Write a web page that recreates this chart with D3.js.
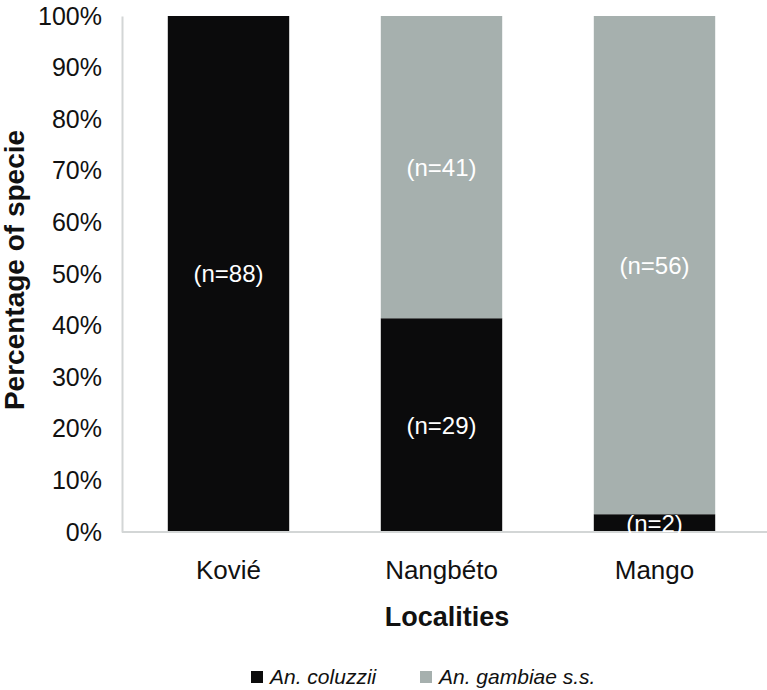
<!DOCTYPE html>
<html><head><meta charset="utf-8">
<script src="https://cdn.jsdelivr.net/npm/d3@7"></script>
<style>body{margin:0;background:#fff;}svg{display:block;font-family:"Liberation Sans",Arial,sans-serif;}</style>
</head><body><svg id="c" width="767" height="690"></svg>
<script>
const categories = ["Kovié", "Nangbéto", "Mango"];
const coluzzii = [88, 29, 2];
const gambiae = [0, 41, 56];
const seriesNames = ["An. coluzzii", "An. gambiae s.s."];
const seriesColors = ["#0b0b0c", "#a6b0ae"];
const yTicks = [0, 0.1, 0.2, 0.3, 0.4, 0.5, 0.6, 0.7, 0.8, 0.9, 1.0];

const svg = d3.select("#c");
const x0 = 122, x1 = 761, yTop = 16, yBot = 532;
const x = d3.scaleBand().domain(categories).range([x0, x1]).paddingInner(0.43).paddingOuter(0.215);
const y = d3.scaleLinear().domain([0, 1]).range([yBot, yTop]);

const data = categories.map((c, i) => {
  const t = coluzzii[i] + gambiae[i];
  return {c, vals: [coluzzii[i], gambiae[i]], t};
});
const stack = [];
data.forEach(d => {
  let acc = 0;
  d.vals.forEach((v, k) => {
    const p0 = acc / d.t, p1 = (acc + v) / d.t;
    acc += v;
    if (v > 0) stack.push({c: d.c, k, v, p0, p1});
  });
});

// axes
const ya = svg.append("g").attr("transform", `translate(${x0},0)`)
  .call(d3.axisLeft(y).tickValues(yTicks).tickFormat(d3.format(".0%")).tickSize(0).tickPadding(20));
ya.select(".domain").attr("stroke", "#d3d6d6").attr("stroke-width", 2);
ya.selectAll("text").attr("font-size", 25).attr("fill", "#111").attr("font-family", "Liberation Sans, Arial, sans-serif");

svg.selectAll("rect.bar").data(stack).enter().append("rect")
  .attr("x", d => x(d.c)).attr("width", x.bandwidth())
  .attr("y", d => y(d.p1)).attr("height", d => y(d.p0) - y(d.p1))
  .attr("fill", d => seriesColors[d.k]);

const xa = svg.append("g").attr("transform", `translate(0,${yBot})`)
  .call(d3.axisBottom(x).tickSize(0).tickPadding(0));
xa.select(".domain").attr("stroke", "#d3d6d6").attr("stroke-width", 2).attr("d", `M${x0},0H${767}`);
xa.selectAll("text").attr("font-size", 26).attr("fill", "#111").attr("dy", null).attr("y", 47)
  .attr("font-family", "Liberation Sans, Arial, sans-serif");

svg.selectAll("text.lab").data(stack).enter().append("text")
  .attr("x", d => x(d.c) + x.bandwidth() / 2)
  .attr("y", d => (y(d.p0) + y(d.p1)) / 2)
  .attr("dy", "0.35em").attr("text-anchor", "middle")
  .attr("font-size", 24).attr("fill", "#fff")
  .text(d => `(n=${d.v})`);

svg.append("text").attr("x", 447).attr("y", 626).attr("text-anchor", "middle")
  .attr("font-size", 27).attr("font-weight", "bold").attr("fill", "#111").text("Localities");
svg.append("text").attr("transform", `translate(24,270) rotate(-90)`)
  .attr("text-anchor", "middle").attr("font-size", 28).attr("font-weight", "bold").attr("fill", "#111")
  .text("Percentage of specie");

const legX = [251, 420];
const leg = svg.selectAll("g.leg").data(seriesNames).enter().append("g")
  .attr("transform", (d, i) => `translate(${legX[i]},677)`);
leg.append("rect").attr("x", 0).attr("y", -6).attr("width", 12).attr("height", 12).attr("fill", (d, i) => seriesColors[i]);
leg.append("text").attr("x", 19).attr("dy", "0.35em").attr("font-size", 21).attr("font-style", "italic").attr("fill", "#111").text(d => d);
</script></body></html>
